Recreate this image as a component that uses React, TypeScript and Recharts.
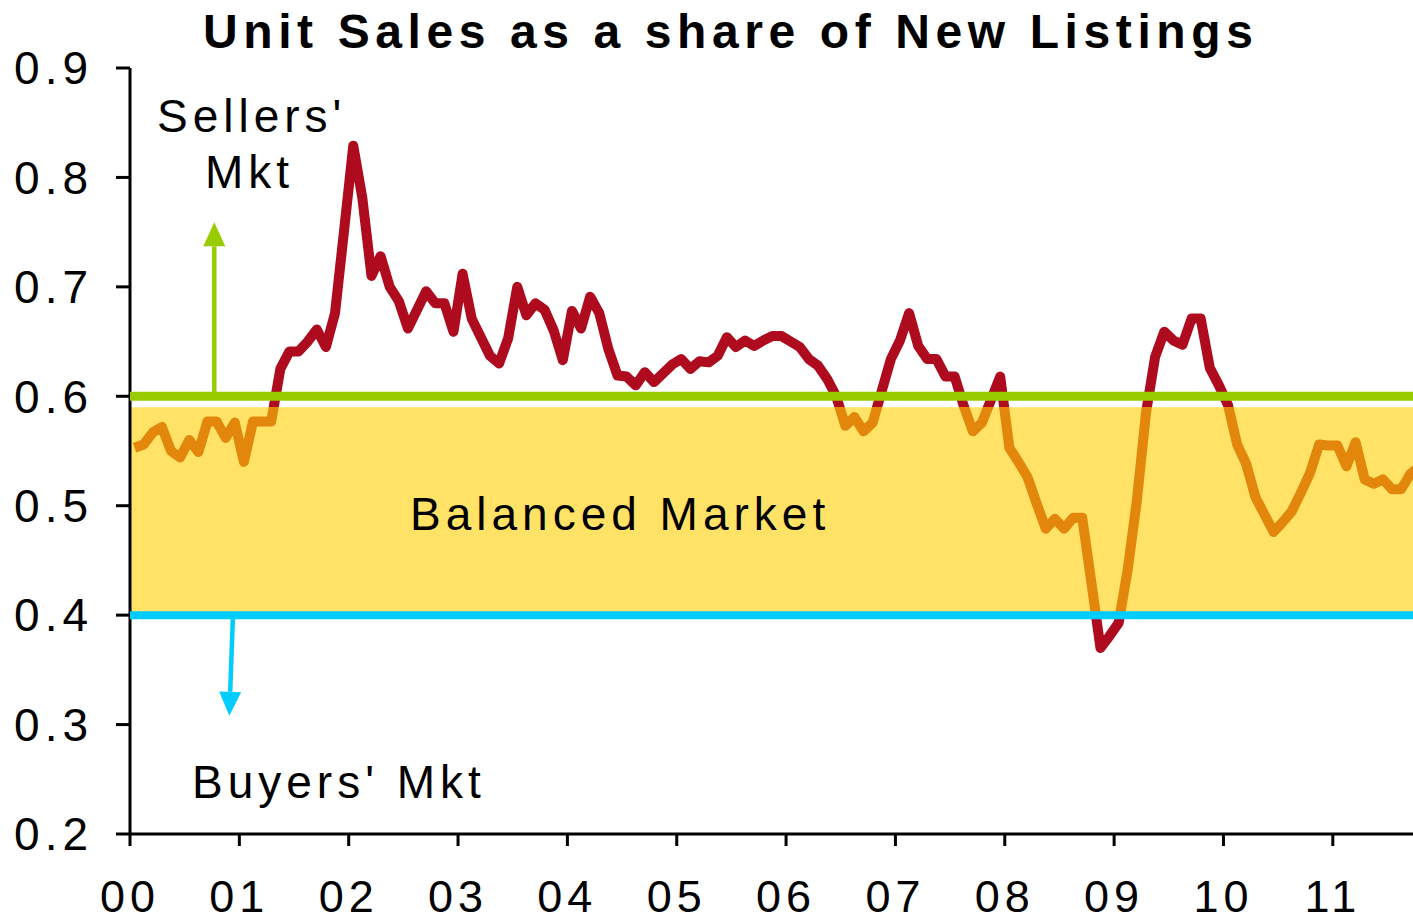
import { LineChart, Line, XAxis, YAxis, ReferenceArea, ReferenceLine } from "recharts"

// monthly ratio of unit sales to new listings
const Y2000 = [0.553, 0.556, 0.567, 0.572, 0.55, 0.544, 0.56, 0.549, 0.577, 0.577, 0.562, 0.576]
const Y2001 = [0.54, 0.577, 0.577, 0.577, 0.625, 0.641, 0.641, 0.65, 0.661, 0.645, 0.676, 0.752]
const Y2002 = [0.829, 0.781, 0.71, 0.728, 0.7, 0.687, 0.662, 0.679, 0.696, 0.685, 0.685, 0.659]
const Y2003 = [0.712, 0.671, 0.654, 0.637, 0.63, 0.653, 0.7, 0.674, 0.685, 0.679, 0.66, 0.633]
const Y2004 = [0.678, 0.662, 0.691, 0.676, 0.643, 0.619, 0.618, 0.61, 0.622, 0.613, 0.621, 0.629]
const Y2005 = [0.634, 0.625, 0.632, 0.631, 0.637, 0.654, 0.645, 0.651, 0.646, 0.651, 0.655, 0.655]
const Y2006 = [0.65, 0.645, 0.634, 0.628, 0.616, 0.6, 0.573, 0.581, 0.568, 0.576, 0.605, 0.634]
const Y2007 = [0.651, 0.676, 0.646, 0.634, 0.634, 0.618, 0.618, 0.591, 0.568, 0.576, 0.597, 0.618]
const Y2008 = [0.553, 0.54, 0.526, 0.502, 0.479, 0.488, 0.479, 0.489, 0.489, 0.43, 0.37, 0.381]
const Y2009 = [0.393, 0.442, 0.505, 0.585, 0.636, 0.659, 0.651, 0.647, 0.671, 0.671, 0.626, 0.61]
const Y2010 = [0.592, 0.556, 0.538, 0.508, 0.492, 0.476, 0.485, 0.495, 0.512, 0.53, 0.556, 0.555]
const Y2011 = [0.555, 0.536, 0.558, 0.524, 0.52, 0.524, 0.515, 0.515, 0.529, 0.536]

const YEAR_LABELS = ["00", "01", "02", "03", "04", "05", "06", "07", "08", "09", "10", "11"]
const Y_TICKS = [0.2, 0.3, 0.4, 0.5, 0.6, 0.7, 0.8, 0.9]

const SELLERS_LINE = 0.6
const BUYERS_LINE = 0.4
const BAND_TOP = 0.59

const RATIOS = [...Y2000, ...Y2001, ...Y2002, ...Y2003, ...Y2004, ...Y2005, ...Y2006, ...Y2007, ...Y2008, ...Y2009, ...Y2010, ...Y2011]
const data = RATIOS.map((v, i) => ({ month: i + 0.5, ratio: v }))

// the line turns orange where it runs through the balanced band
const hi = Math.max(...RATIOS)
const lo = Math.min(...RATIOS)
const off = (t: number) => `${((hi - t) / (hi - lo)) * 100}%`

const RED = "#AE0B1F"
const ORANGE = "#E2870C"
const FONT = "'Liberation Sans', Arial, sans-serif"

const Arrow = (p: any) => {
  const { x1, y1, x2, y2, stroke } = p
  const dx = x2 - x1
  const dy = y2 - y1
  const len = Math.hypot(dx, dy) || 1
  const ux = dx / len
  const uy = dy / len
  const head = 24
  const half = 11
  const bx = x2 - ux * head
  const by = y2 - uy * head
  return (
    <g>
      <line x1={x1} y1={y1} x2={bx} y2={by} stroke={stroke} strokeWidth={4.5} />
      <polygon
        points={`${x2},${y2} ${bx - uy * half},${by + ux * half} ${bx + uy * half},${by - ux * half}`}
        fill={stroke}
      />
    </g>
  )
}

export default function App() {
  return (
    <div style={{ position: "absolute", left: 0, top: 0, width: 1413, height: 924, background: "#fff", letterSpacing: 5 }}>
      <LineChart width={1413} height={924} data={data} margin={{ top: 68, right: 0, bottom: 0, left: 0 }}>
        <defs>
          <linearGradient id="ratioStroke" x1="0" y1="0" x2="0" y2="1">
            <stop offset="0%" stopColor={RED} />
            <stop offset={off(BAND_TOP)} stopColor={RED} />
            <stop offset={off(BAND_TOP)} stopColor={ORANGE} />
            <stop offset={off(BUYERS_LINE)} stopColor={ORANGE} />
            <stop offset={off(BUYERS_LINE)} stopColor={RED} />
            <stop offset="100%" stopColor={RED} />
          </linearGradient>
        </defs>
        <XAxis
          dataKey="month"
          type="number"
          domain={[0, 140.8]}
          allowDataOverflow
          ticks={[0, 12, 24, 36, 48, 60, 72, 84, 96, 108, 120, 132]}
          interval={0}
          tickFormatter={(v: number) => YEAR_LABELS[Math.round(v / 12)]}
          height={90}
          tickSize={12}
          tickMargin={34}
          axisLine={{ stroke: "#000", strokeWidth: 3 }}
          tickLine={{ stroke: "#000", strokeWidth: 3 }}
          tick={{ fill: "#000", fontSize: 45, fontFamily: FONT }}
        />
        <YAxis
          type="number"
          domain={[0.2, 0.9]}
          ticks={Y_TICKS}
          interval={0}
          tickFormatter={(v: number) => v.toFixed(1)}
          width={130}
          tickSize={14}
          tickMargin={23}
          axisLine={{ stroke: "#000", strokeWidth: 3 }}
          tickLine={{ stroke: "#000", strokeWidth: 3 }}
          tick={{ fill: "#000", fontSize: 46, fontFamily: FONT }}
        />
        <ReferenceArea y1={BUYERS_LINE} y2={BAND_TOP} fill="#FFE266" fillOpacity={1} stroke="none" />
        <Line
          type="linear"
          dataKey="ratio"
          stroke="url(#ratioStroke)"
          strokeWidth={10}
          strokeLinejoin="round"
          dot={false}
          activeDot={false}
          isAnimationActive={false}
        />
        <ReferenceLine y={SELLERS_LINE} stroke="#99CC00" strokeWidth={9} zIndex={500} />
        <ReferenceLine y={BUYERS_LINE} stroke="#00CCFF" strokeWidth={8} zIndex={500} />
        <ReferenceLine
          segment={[{ x: 9.25, y: SELLERS_LINE }, { x: 9.25, y: 0.759 }]}
          stroke="#99CC00"
          shape={Arrow}
          zIndex={500}
        />
        <ReferenceLine
          segment={[{ x: 11.3, y: BUYERS_LINE }, { x: 10.9, y: 0.308 }]}
          stroke="#00CCFF"
          shape={Arrow}
          zIndex={500}
        />
      </LineChart>
      <svg width={1413} height={924} style={{ position: "absolute", left: 0, top: 0, pointerEvents: "none" }}>
        <g fontFamily={FONT} fill="#000">
          <text x={203} y={48} fontSize={48} fontWeight="bold" letterSpacing={5.6}>
            Unit Sales as a share of New Listings
          </text>
          <text x={157} y={132} fontSize={46}>Sellers'</text>
          <text x={205} y={188} fontSize={46}>Mkt</text>
          <text x={410} y={530} fontSize={46}>Balanced Market</text>
          <text x={192} y={798} fontSize={46}>Buyers' Mkt</text>
        </g>
      </svg>
    </div>
  )
}
